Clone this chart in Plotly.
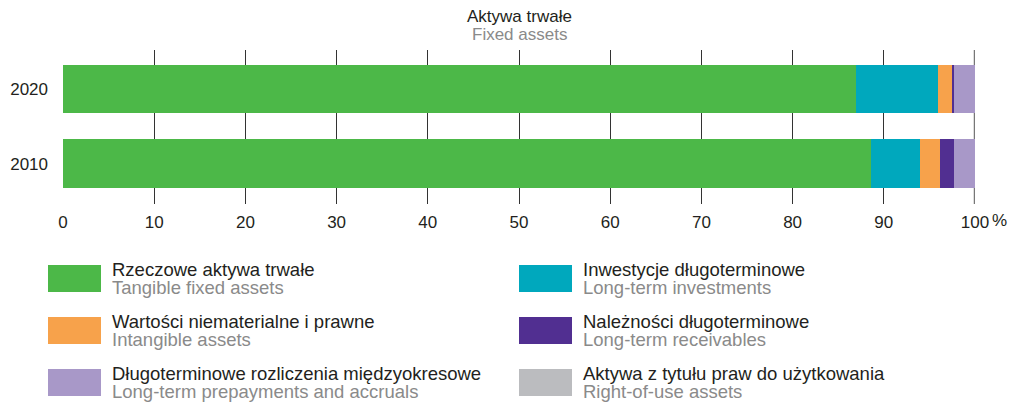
import plotly.graph_objects as go

years = ["2010", "2020"]
series_pl = ["Rzeczowe aktywa trwałe", "Inwestycje długoterminowe", "Wartości niematerialne i prawne",
             "Należności długoterminowe", "Długoterminowe rozliczenia międzyokresowe",
             "Aktywa z tytułu praw do użytkowania"]
series_en = ["Tangible fixed assets", "Long-term investments", "Intangible assets",
             "Long-term receivables", "Long-term prepayments and accruals", "Right-of-use assets"]
values = {
    "Rzeczowe aktywa trwałe": [88.6, 87.0],
    "Inwestycje długoterminowe": [5.4, 8.9],
    "Wartości niematerialne i prawne": [2.2, 1.6],
    "Należności długoterminowe": [1.5, 0.2],
    "Długoterminowe rozliczenia międzyokresowe": [2.3, 2.3],
    "Aktywa z tytułu praw do użytkowania": [0.0, 0.0],
}
colors = ["#4cb848", "#00a8bd", "#f7a24b", "#512f91", "#a898c8", "#bbbcbf"]
x_ticks = [0, 10, 20, 30, 40, 50, 60, 70, 80, 90, 100]

FONT = "Liberation Sans, Arial, sans-serif"
W, H = 1018, 402
ML, MR, MT, MB = 63, 43, 50, 198

fig = go.Figure()
for name, c in zip(series_pl, colors):
    fig.add_trace(go.Bar(y=years, x=values[name], orientation="h", name=name,
                         marker=dict(color=c, line=dict(width=0)), width=0.65,
                         showlegend=False))

fig.update_layout(
    width=W, height=H, barmode="stack",
    margin=dict(l=ML, r=MR, t=MT, b=MB, autoexpand=False),
    paper_bgcolor="white", plot_bgcolor="white",
    font=dict(family=FONT, size=17, color="#231f20"),
    xaxis=dict(range=[0, 100], tickvals=x_ticks, ticktext=[str(v) for v in x_ticks],
               showgrid=True, gridcolor="#333333", gridwidth=1.3, zeroline=False,
               showline=False, ticks="", ticklabelstandoff=6, layer="below traces",
               tickfont=dict(size=17, color="#231f20"), fixedrange=True),
    yaxis=dict(range=[-0.54, 1.52], showgrid=False, zeroline=False, ticks="",
               ticklabelstandoff=14, tickfont=dict(size=17, color="#231f20"),
               fixedrange=True),
)

# emphasise 100% line
fig.add_shape(type="line", xref="x", yref="paper", x0=100, x1=100, y0=0, y1=1,
              line=dict(color="#777777", width=2.5), layer="below")

fig.add_annotation(xref="x", yref="paper", x=100, y=0, text="%", showarrow=False,
                   xanchor="left", yanchor="top", xshift=15, yshift=-5,
                   font=dict(size=17, color="#231f20"))

# title
fig.add_annotation(xref="paper", yref="paper", x=0.5, y=1, yshift=MT - 16, text="Aktywa trwałe",
                   showarrow=False, yanchor="middle", font=dict(size=17, color="#231f20"))
fig.add_annotation(xref="paper", yref="paper", x=0.5, y=1, yshift=MT - 34, text="Fixed assets",
                   showarrow=False, yanchor="middle", font=dict(size=17, color="#8a8a8a"))

# legend (manual, two columns)
col_x = [48, 519]
row_y = [265, 317, 369]
PW = W - ML - MR
PH = H - MT - MB
for k in range(len(series_pl)):
    col = k % 2
    row = k // 2
    x0 = col_x[col]
    y0 = row_y[row]
    fig.add_shape(type="rect", xref="paper", yref="paper",
                  x0=(x0 - ML) / PW, x1=(x0 + 53 - ML) / PW,
                  y0=(H - MB - (y0 + 27)) / PH, y1=(H - MB - y0) / PH,
                  fillcolor=colors[k], line=dict(width=0))
    tx = (x0 + 62 - ML) / PW
    fig.add_annotation(xref="paper", yref="paper", x=tx,
                       y=(H - MB - (y0 + 4)) / PH, text=series_pl[k],
                       showarrow=False, xanchor="left", yanchor="middle",
                       font=dict(size=18.5, color="#231f20"))
    fig.add_annotation(xref="paper", yref="paper", x=tx,
                       y=(H - MB - (y0 + 22)) / PH, text=series_en[k],
                       showarrow=False, xanchor="left", yanchor="middle",
                       font=dict(size=18.5, color="#8a8a8a"))

fig.write_html("out.html", config={"displayModeBar": False},
               post_script="document.body.style.margin='0';")
